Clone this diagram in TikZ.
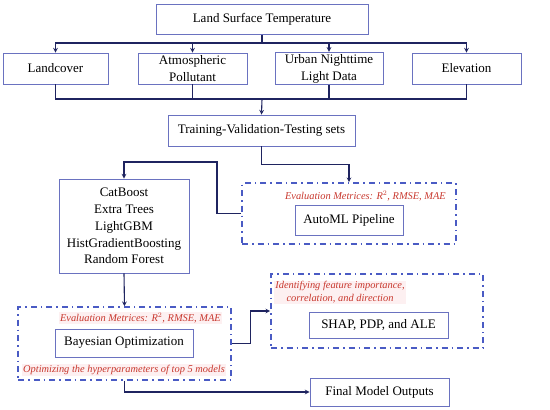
\documentclass[tikz,border=0pt]{standalone}
\usepackage{fontspec}
\setmainfont{Liberation Serif}
\usetikzlibrary{arrows, positioning, calc}
\definecolor{marco}{HTML}{6A72C0}
\definecolor{flecha}{HTML}{1F2460}
\definecolor{punteado}{HTML}{4A5BC4}
\definecolor{rojo}{HTML}{C8372D}
\definecolor{rosado}{HTML}{FDF0F1}
\tikzset{
  caja/.style={rectangle, draw=marco, line width=0.8pt, fill=white, text=black,
               font=\fontsize{13}{16.8}\selectfont, align=center, inner sep=2pt},
  marcopunto/.style={rectangle, draw=punteado, line width=1.6pt,
                     dash pattern=on 6pt off 4pt on 1.5pt off 4pt},
  nota/.style={text=rojo, font=\fontsize{10.4}{13}\selectfont\itshape, inner sep=1pt, align=center},
  notarosa/.style={nota, fill=rosado},
  arrow/.style={line width=1.1pt,->,>=stealth,color=flecha},
  linea/.style={line width=1.1pt,color=flecha}
}
\begin{document}
\begin{tikzpicture}[x=1pt, y=-1pt]
  \useasboundingbox (0,0) rectangle (550,410);
  % datos de entrada
  \node (lst) [caja, minimum width=212pt, minimum height=30pt] at (262,19.5) {Land Surface Temperature};
  \node (landcover) [caja, minimum width=105pt, minimum height=31pt] at (55.5,68.5) {Landcover};
  \node (pollutant) [caja, minimum width=109pt, minimum height=31pt] at (192.5,68.5) {Atmospheric\\ Pollutant};
  \node (nightlight) [caja, minimum width=108pt, minimum height=31pt] at (329,68.5) {Urban Nighttime\\ Light Data};
  \node (elevation) [caja, minimum width=109pt, minimum height=31pt] at (466.5,68.5) {Elevation};
  \node (trainset) [caja, minimum width=187pt, minimum height=31pt] at (261.5,130.5) {Training-Validation-Testing sets};
  % automl
  \node (automlbox) [marcopunto, minimum width=214pt, minimum height=61pt] at (349,213.5) {};
  \node (automlnota) [nota, anchor=east] at (447,196) {Evaluation Metrices: R$^2$, RMSE, MAE};
  \node (automl) [caja, minimum width=108pt, minimum height=30pt] at (349,220) {AutoML Pipeline};
  % modelos
  \node (models) [caja, minimum width=130pt, minimum height=94pt] at (124,226)
        {CatBoost\\ Extra Trees\\ LightGBM\\ HistGradientBoosting\\ Random Forest};
  % optimizacion
  \node (bayesbox) [marcopunto, minimum width=213pt, minimum height=73pt] at (124.5,343.5) {};
  \node (bayesnota) [notarosa, anchor=east] at (222,318) {Evaluation Metrices: R$^2$, RMSE, MAE};
  \node (bayes) [caja, minimum width=138pt, minimum height=28pt] at (124,343) {Bayesian Optimization};
  \node (hypernota) [notarosa] at (124,370) {Optimizing the hyperparameters of top 5 models};
  % interpretacion
  \node (shapbox) [marcopunto, minimum width=212pt, minimum height=74pt] at (377,311) {};
  \node (shapnota) [notarosa] at (340,292.5) {Identifying feature importance,\\ correlation, and direction};
  \node (shap) [caja, minimum width=139pt, minimum height=26pt] at (378.5,325) {SHAP, PDP, and ALE};
  \node (final) [caja, minimum width=139pt, minimum height=28pt] at (379.5,392) {Final Model Outputs};
  % conectores
  \coordinate (split) at (262,43);
  \coordinate (merge) at (262,99);
  \coordinate (retorno) at (217,162);
  \draw [linea] (lst.south) -- (split);
  \foreach \n in {landcover, pollutant, nightlight, elevation} {
    \draw [arrow] (split) -| (\n.north);
    \draw [linea] (\n.south) |- (merge);
  }
  \draw [arrow] (merge) -- (trainset.north);
  \draw [arrow] (trainset.south) -- ++(0,18) -| (automlbox.north);
  \draw [arrow] (automlbox.west) -| (retorno) -| (models.north);
  \draw [arrow] (models.south) -- (bayesbox.north);
  \draw [arrow] (bayesbox.east) -- ++(19,0) |- (shapbox.west);
  \draw [arrow] (bayesbox.south) |- (final.west);
\end{tikzpicture}
\end{document}
